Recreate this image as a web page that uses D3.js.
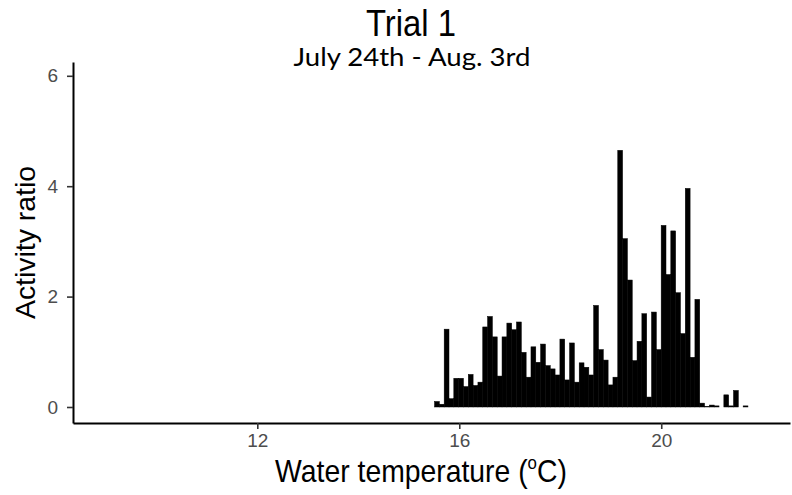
<!DOCTYPE html>
<html>
<head>
<meta charset="utf-8">
<script src="https://cdn.jsdelivr.net/npm/d3@7"></script>
<style>
  body { margin: 0; background: #ffffff; }
  svg { display: block; }
</style>
</head>
<body>
<svg id="chart" width="792" height="495"></svg>
<script>
// Activity ratio per water-temperature bin (°C), Trial 1
const binStart = 15.51;   // lower edge of the first temperature bin
const binWidth = 0.0955;  // width of each temperature bin
const activity = [
  0.10, 0.05, 1.41, 0.15, 0.52, 0.52, 0.37, 0.59, 0.39, 0.45,
  1.45, 1.64, 1.27, 0.56, 1.27, 1.52, 1.40, 1.54, 0.99, 0.54,
  1.09, 0.81, 1.14, 0.75, 0.69, 0.58, 1.23, 0.49, 1.16, 0.45,
  0.80, 0.72, 0.58, 1.84, 1.04, 0.85, 0.40, 0.54, 4.65, 3.05,
  2.30, 0.84, 1.19, 1.69, 0.18, 1.72, 1.04, 3.29, 2.40, 3.19,
  2.07, 1.33, 3.96, 0.90, 1.95, 0.07, 0.01, 0.035, 0.02, 0,
  0.22, 0.02, 0.30, 0, 0.02
];
const xTicks = [12, 16, 20];
const yTicks = [0, 2, 4, 6];
const xDomain = [8.35, 22.55];
const yDomain = [-0.29, 6.25];

const title = "Trial 1";
const subtitle = "July 24th - Aug. 3rd";
const yTitle = "Activity ratio";

const svg = d3.select("#chart");
const panel = { left: 73, right: 790, top: 62, bottom: 423 };

const x = d3.scaleLinear().domain(xDomain).range([panel.left, panel.right]);
const y = d3.scaleLinear().domain(yDomain).range([panel.bottom, panel.top]);

const bins = activity.map((v, i) => ({
  x0: binStart + i * binWidth,
  x1: binStart + (i + 1) * binWidth,
  value: v
}));

// bars (thin outline of the same colour closes hairline seams between neighbours)
svg.append("g")
  .selectAll("rect")
  .data(bins.filter(d => d.value > 0))
  .join("rect")
  .attr("x", d => x(d.x0))
  .attr("width", d => x(d.x1) - x(d.x0))
  .attr("y", d => y(d.value))
  .attr("height", d => y(0) - y(d.value))
  .attr("fill", "#000000")
  .attr("stroke", "#000000")
  .attr("stroke-width", 0.5);

// axes
const xAxis = svg.append("g")
  .attr("transform", `translate(0,${panel.bottom})`)
  .call(d3.axisBottom(x).tickValues(xTicks).tickFormat(d3.format("d"))
    .tickSize(6).tickSizeOuter(0).tickPadding(5));

const yAxis = svg.append("g")
  .attr("transform", `translate(${panel.left},0)`)
  .call(d3.axisLeft(y).tickValues(yTicks).tickFormat(d3.format("d"))
    .tickSize(6).tickSizeOuter(0).tickPadding(9));

[xAxis, yAxis].forEach(g => {
  g.select(".domain").attr("stroke", "#000").attr("stroke-width", 2);
  g.selectAll(".tick line").attr("stroke", "#333333").attr("stroke-width", 1.6);
  g.selectAll(".tick text")
    .attr("fill", "#4d4d4d")
    .style("font-family", "'Liberation Sans', Arial, sans-serif")
    .style("font-size", "19px");
});

// titles
svg.append("text")
  .attr("x", 411).attr("y", 36)
  .attr("text-anchor", "middle")
  .attr("textLength", 90).attr("lengthAdjust", "spacingAndGlyphs")
  .style("font-family", "'Liberation Sans', Arial, sans-serif")
  .style("font-size", "36px")
  .attr("fill", "#000")
  .text(title);

svg.append("text")
  .attr("x", 412).attr("y", 66)
  .attr("text-anchor", "middle")
  .attr("textLength", 237).attr("lengthAdjust", "spacingAndGlyphs")
  .style("font-family", "Lato, 'Open Sans', sans-serif")
  .style("font-size", "25px")
  .attr("fill", "#000")
  .text(subtitle);

// x axis title with superscript "o" for degrees, narrowed horizontally
const xt = svg.append("text")
  .attr("transform", "translate(421,482) scale(0.886,1)")
  .attr("text-anchor", "middle")
  .style("font-family", "'Liberation Sans', Arial, sans-serif")
  .style("font-size", "32px")
  .attr("fill", "#000");
xt.append("tspan").text("Water temperature (");
xt.append("tspan").attr("dy", -13).style("font-size", "19px").text("o");
xt.append("tspan").attr("dy", 13).text("C)");

// y axis title
svg.append("text")
  .attr("transform", `translate(35,${(panel.top + panel.bottom) / 2}) rotate(-90)`)
  .attr("text-anchor", "middle")
  .attr("textLength", 153).attr("lengthAdjust", "spacingAndGlyphs")
  .style("font-family", "'Liberation Sans', Arial, sans-serif")
  .style("font-size", "28px")
  .attr("fill", "#000")
  .text(yTitle);
</script>
</body>
</html>
